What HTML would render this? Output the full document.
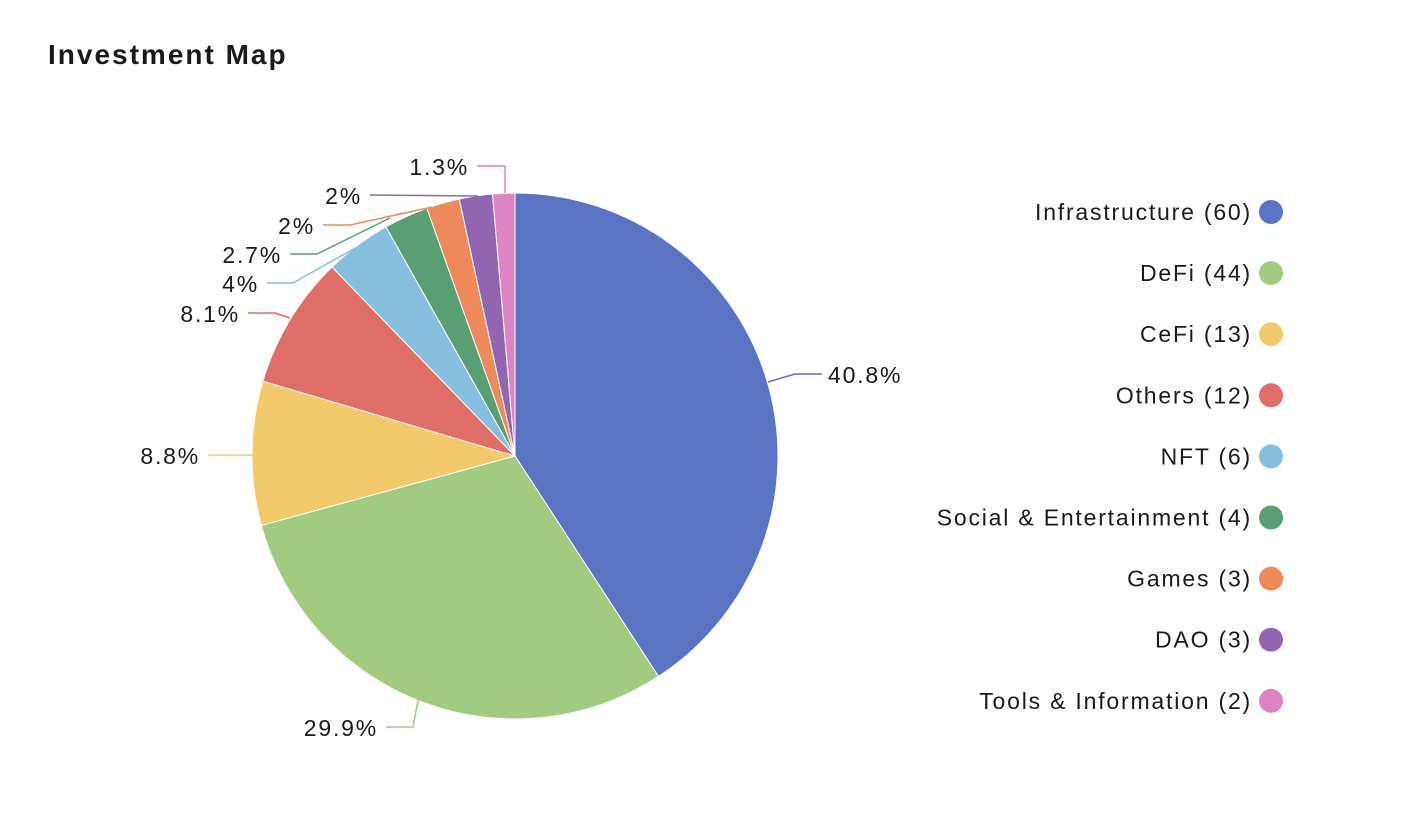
<!DOCTYPE html>
<html><head><meta charset="utf-8"><style>
body{margin:0;background:#fff;font-family:"Liberation Sans",sans-serif;}
svg{display:block}
</style></head><body>
<svg id="s" width="1413" height="815" xmlns="http://www.w3.org/2000/svg" font-family="Liberation Sans, sans-serif">
<text x="48" y="64" font-size="28" font-weight="bold" fill="#1a1a1a" letter-spacing="2">Investment Map</text>
<g id="pie" stroke="#fff" stroke-width="1"></g>
<g fill="none" stroke-width="1.5">
<polyline points="768,382 795,374 822,374" stroke="#5a73c2"/>
<polyline points="420,690 413,727 386,727" stroke="#a0cb80"/>
<polyline points="254,455 208,455" stroke="#f2c96b"/>
<polyline points="290,318 275,313 248,313" stroke="#df6e68"/>
<polyline points="357,247 293,283 267,283" stroke="#86bfdd"/>
<polyline points="390,218 317,254 290,254" stroke="#5a9f74"/>
<polyline points="432,207 350,225 323,225" stroke="#ed895b"/>
<polyline points="478,196 370,195" stroke="#9165b0"/>
<polyline points="505,193 505,166 477,166" stroke="#dc84c6"/>
</g>
<g font-size="23" fill="#1a1a1a" letter-spacing="1.8">
<text x="828" y="383">40.8%</text>
<text x="378" y="736" text-anchor="end">29.9%</text>
<text x="200" y="464" text-anchor="end">8.8%</text>
<text x="240" y="322" text-anchor="end">8.1%</text>
<text x="259" y="292" text-anchor="end">4%</text>
<text x="282" y="263" text-anchor="end">2.7%</text>
<text x="315" y="234" text-anchor="end">2%</text>
<text x="362" y="204" text-anchor="end">2%</text>
<text x="469" y="175" text-anchor="end">1.3%</text>
</g>
<g id="leg" font-size="23" fill="#1a1a1a" text-anchor="end" letter-spacing="1.8"></g>
</svg>
<script>
var d=[["Infrastructure (60)",60,"#5a73c2"],["DeFi (44)",44,"#a0cb80"],["CeFi (13)",13,"#f2c96b"],["Others (12)",12,"#df6e68"],["NFT (6)",6,"#86bfdd"],["Social & Entertainment (4)",4,"#5a9f74"],["Games (3)",3,"#ed895b"],["DAO (3)",3,"#9165b0"],["Tools & Information (2)",2,"#dc84c6"]];
var cx=515,cy=456,r=263,a=0,ns="http://www.w3.org/2000/svg",pie=document.getElementById("pie"),leg=document.getElementById("leg");
function pt(t){var q=t*Math.PI/180;return (cx+r*Math.sin(q)).toFixed(2)+","+(cy-r*Math.cos(q)).toFixed(2);}
d.forEach(function(e,i){var s=e[1]/147*360;var p=document.createElementNS(ns,"path");
p.setAttribute("d","M"+cx+","+cy+" L"+pt(a)+" A"+r+","+r+" 0 "+(s>180?1:0)+" 1 "+pt(a+s)+" Z");p.setAttribute("fill",e[2]);pie.appendChild(p);a+=s;
var y=212+i*61.1;var t=document.createElementNS(ns,"text");t.setAttribute("x",1252);t.setAttribute("y",y+8);t.textContent=e[0];leg.appendChild(t);
var c=document.createElementNS(ns,"circle");c.setAttribute("cx",1271);c.setAttribute("cy",y);c.setAttribute("r",12);c.setAttribute("fill",e[2]);leg.appendChild(c);});
</script>
</body></html>
